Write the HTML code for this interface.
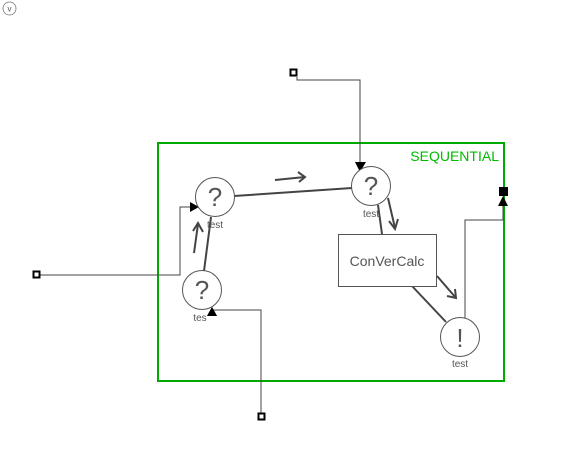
<!DOCTYPE html>
<html><head><style>
html,body{margin:0;padding:0;background:#fff;width:586px;height:470px;overflow:hidden}
svg text{font-family:"Liberation Sans","DejaVu Sans",sans-serif}
</style></head><body>
<svg width="586" height="470" viewBox="0 0 586 470" xmlns="http://www.w3.org/2000/svg">
<circle cx="9.5" cy="8.5" r="6.5" fill="none" stroke="#777" stroke-width="0.8"/>
<text x="9.5" y="11.5" font-size="8" fill="#555" text-anchor="middle">v</text>
<rect x="158" y="143" width="346" height="238" fill="none" stroke="#00aa00" stroke-width="2"/>
<text x="499" y="161" font-size="14" fill="#00bb00" text-anchor="end">SEQUENTIAL</text>
<g stroke="#444" stroke-width="2" fill="none">
<line x1="234" y1="196" x2="352" y2="188"/>
<line x1="204" y1="271" x2="211" y2="217"/>
<line x1="378" y1="205" x2="382" y2="234"/>
<line x1="412" y1="286" x2="446" y2="322"/>
<line x1="275" y1="180" x2="305" y2="177"/><polyline points="298,172 305,177 299,182"/>
<line x1="194" y1="253" x2="198" y2="224"/><polyline points="193,231 198,223 203,232"/>
<line x1="388" y1="198" x2="395" y2="228"/><polyline points="389,221 395,229 398,219"/>
<line x1="437" y1="276" x2="456" y2="298"/><polyline points="447,296 456,298 455,289"/>
</g>
<g stroke="#444" stroke-width="1" fill="none">
<polyline points="297,77 297,80 360,80 360,166"/>
<polyline points="40,275 180,275 180,207 192,207"/>
<polyline points="261,413 261,310 213,310"/>
<polyline points="465,318 465,220 503,220 503,205"/>
</g>
<polygon points="355,162 366,162 360,172" fill="#000"/>
<polygon points="190,202 190,212 199,207" fill="#000"/>
<polygon points="207,316 217,316 212,307" fill="#000"/>
<polygon points="498,206 508,206 503,196" fill="#000"/>
<rect x="499" y="187" width="9" height="9" fill="#000"/>
<rect x="290.5" y="69.5" width="6" height="6" fill="#fff" stroke="#000" stroke-width="2"/>
<rect x="33.5" y="271.5" width="6" height="6" fill="#fff" stroke="#000" stroke-width="2"/>
<rect x="258.5" y="413.5" width="6" height="6" fill="#fff" stroke="#000" stroke-width="2"/>
<g fill="#fff" stroke="#555" stroke-width="1">
<circle cx="215" cy="197" r="19.5"/>
<circle cx="371" cy="186" r="19.5"/>
<circle cx="202" cy="290" r="19.5"/>
<circle cx="460" cy="337" r="19.5"/>
<rect x="338.5" y="234.5" width="98" height="52"/>
</g>
<g fill="#555" text-anchor="middle">
<text x="215" y="206" font-size="26">?</text>
<text x="371" y="195" font-size="26">?</text>
<text x="202" y="299" font-size="26">?</text>
<text x="460" y="347" font-size="26">!</text>
<text x="215" y="228" font-size="10">test</text>
<text x="371" y="217" font-size="10">test</text>
<text x="200" y="321" font-size="10">tes</text>
<text x="460" y="367" font-size="10">test</text>
<text x="387" y="266" font-size="14">ConVerCalc</text>
</g>
<polygon points="207,316 217,316 212,307" fill="#000"/>
</svg>
</body></html>
